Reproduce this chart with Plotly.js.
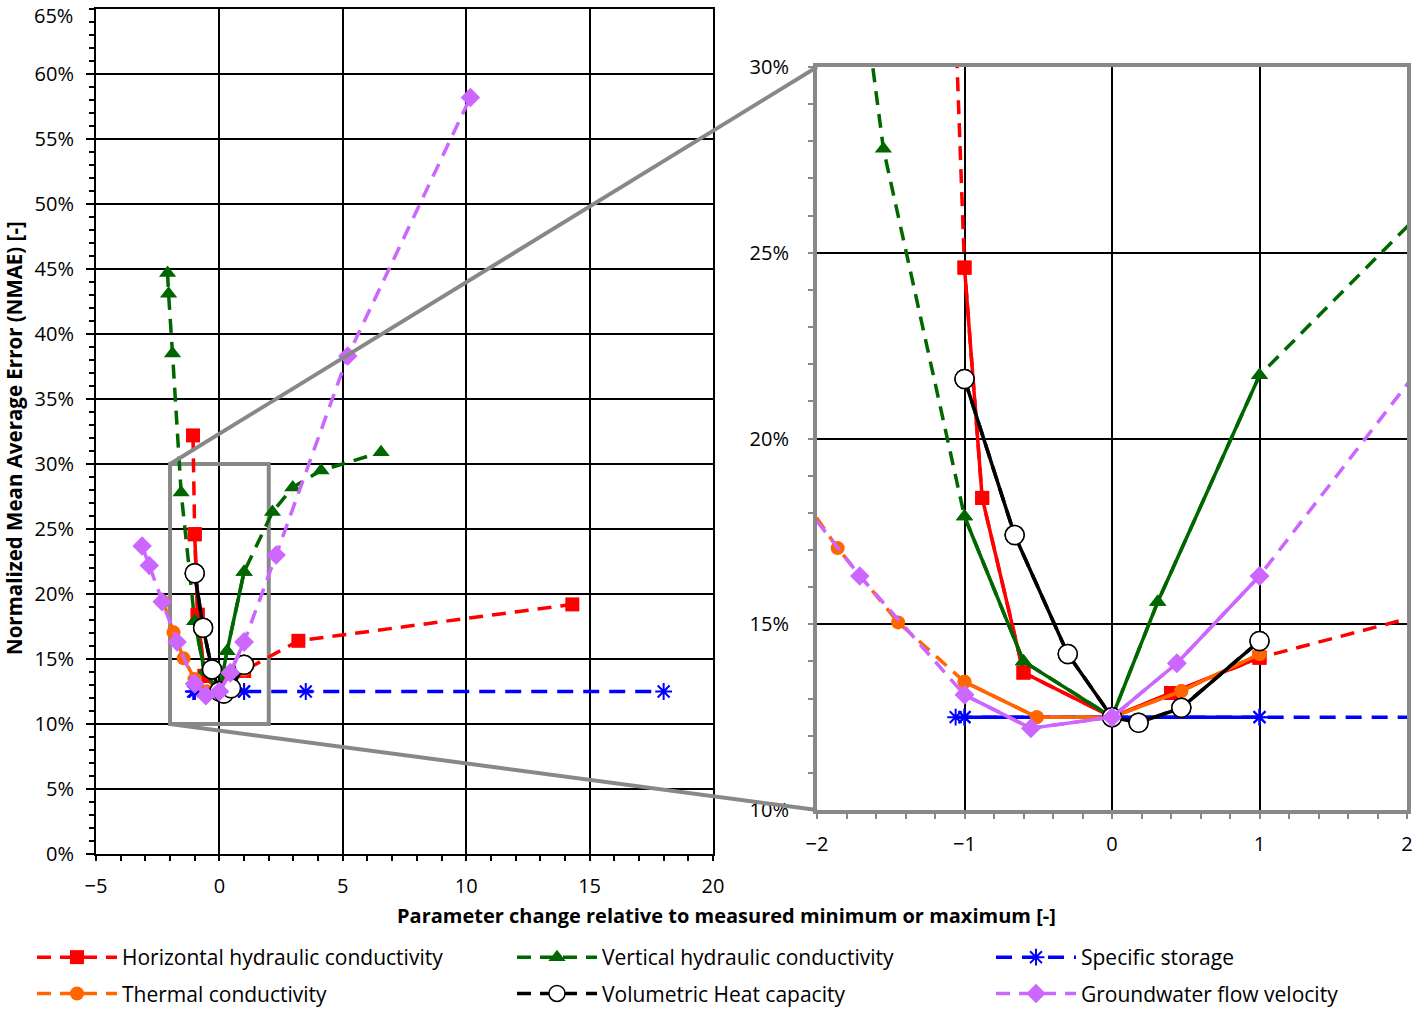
<!DOCTYPE html>
<html><head><meta charset="utf-8">
<script src="https://cdn.plot.ly/plotly-3.0.1.min.js"></script>
<style>html,body{margin:0;padding:0;background:#fff}</style>
</head><body><div id="chart" style="width:1413px;height:1009px"></div>
<script>
// ---- data (NMAE in %) ----
const hhcX = [-1.07, -1.0, -0.88, -0.6, 0, 0.4, 1.0, 3.2, 14.3];
const hhcY = [32.2, 24.6, 18.4, 13.7, 12.5, 13.15, 14.1, 16.4, 19.2];
const vhcX = [-2.1, -2.06, -1.9, -1.55, -1.0, -0.6, 0, 0.31, 1.0, 2.15, 2.97, 4.12, 6.55];
const vhcY = [44.7, 43.1, 38.5, 27.8, 17.9, 14.0, 12.5, 15.6, 21.7, 26.3, 28.2, 29.5, 30.9];
const ssX = [-1.06, -1.0, 0, 1.0, 3.5, 18.0];
const ssY = [12.5, 12.5, 12.5, 12.5, 12.5, 12.5];
const tcX = [-2.27, -1.86, -1.45, -1.0, -0.51, 0, 0.47, 1.0];
const tcY = [19.4, 17.05, 15.05, 13.45, 12.5, 12.5, 13.2, 14.2];
const vhX = [-1.0, -0.66, -0.3, 0, 0.18, 0.47, 1.0];
const vhY = [21.6, 17.4, 14.2, 12.5, 12.35, 12.75, 14.55];
const gfvX = [-3.13, -2.84, -2.32, -1.71, -1.0, -0.55, 0, 0.44, 1.0, 2.3, 5.2, 10.17];
const gfvY = [23.7, 22.2, 19.4, 16.3, 13.1, 12.2, 12.5, 13.95, 16.3, 23.0, 38.3, 58.2];
const seriesNames = ['Horizontal hydraulic conductivity','Vertical hydraulic conductivity','Specific storage',
  'Thermal conductivity','Volumetric Heat capacity','Groundwater flow velocity'];
const mainYTicks = [0, 5, 10, 15, 20, 25, 30, 35, 40, 45, 50, 55, 60];
const mainYTopLabel = '65%';
const xTitle = 'Parameter change relative to measured minimum or maximum [-]';
const yTitle = 'Normalized Mean Average Error (NMAE) [-]';

// ---- layout geometry ----
const W = 1413, H = 1009, M = {l: 96, r: 6, t: 9, b: 155, autoexpand: false};
const PW = W - M.l - M.r, PH = H - M.t - M.b;
const mainDomX = [0, (713 - 96) / PW];
const insetDomX = [(817 - 96) / PW, 1];
const insetDomY = [(854 - 810) / PH, (854 - 67) / PH];
const mainRangeX = [-5, 20], mainRangeY = [0, 65];
const insetRangeX = [-2, 2], insetRangeY = [10, 30];
function toPaper(x, y) {
  return [mainDomX[0] + (x - mainRangeX[0]) / (mainRangeX[1] - mainRangeX[0]) * (mainDomX[1] - mainDomX[0]),
          (y - mainRangeY[0]) / (mainRangeY[1] - mainRangeY[0])];
}
const FONT = '"Open Sans", sans-serif';

const styles = [
  {color: '#FF0000', marker: {symbol: 'square', size: 14}, dash: '14px,9px', legend: 'legend'},
  {color: '#006600', marker: {symbol: 'triangle-up', size: 15}, dash: '14px,9px', legend: 'legend2'},
  {color: '#0000FF', marker: {symbol: 'asterisk-open', size: 14, line: {color: '#0000FF', width: 2}}, dash: '16px,10px', legend: 'legend3'},
  {color: '#FF6600', marker: {symbol: 'circle', size: 14}, dash: '14px,9px', legend: 'legend'},
  {color: '#000000', marker: {symbol: 'circle', size: 19, color: '#FFFFFF', line: {color: '#000000', width: 1.5}}, dash: '14px,9px', legend: 'legend2'},
  {color: '#CC66FF', marker: {symbol: 'diamond', size: 15}, dash: '14px,9px', legend: 'legend3'}
];
const dataX = [hhcX, vhcX, ssX, tcX, vhX, gfvX];
const dataY = [hhcY, vhcY, ssY, tcY, vhY, gfvY];

const traces = [];
seriesNames.forEach((name, k) => {
  const st = styles[k], xs = dataX[k], ys = dataY[k];
  const mk = Object.assign({color: st.color}, st.marker);
  const idx = xs.map((v, i) => i).filter(i => xs[i] >= -1 && xs[i] <= 1);
  [['x', 'y', true], ['x2', 'y2', false]].forEach(([xa, ya, isMain]) => {
    traces.push({type: 'scatter', mode: 'lines+markers', x: xs, y: ys, xaxis: xa, yaxis: ya,
      name: name, legend: st.legend, legendgroup: name, showlegend: isMain,
      line: {color: st.color, width: 3.5, dash: st.dash}, marker: mk, hoverinfo: 'skip'});
    traces.push({type: 'scatter', mode: 'lines+markers', x: idx.map(i => xs[i]), y: idx.map(i => ys[i]),
      xaxis: xa, yaxis: ya, name: name, legend: st.legend, legendgroup: name, showlegend: false,
      line: {color: st.color, width: 3.5, dash: 'solid'}, marker: mk, hoverinfo: 'skip'});
  });
});

const tickFont = {family: FONT, size: 20, color: '#000'};
const pTL = toPaper(-2, 30), pBL = toPaper(-2, 10);
const legBase = {orientation: 'v', font: {family: FONT, size: 21, color: '#000'}, itemwidth: 80,
  yanchor: 'top', xanchor: 'left', bgcolor: 'rgba(0,0,0,0)', tracegroupgap: 6, y: (854 - 937) / PH};

// overlay axes: only provide the inner half of the cross-style tick marks
const innerX = (ov, anc, dom, rng, dt, mdt, col, len) => ({overlaying: ov, anchor: anc, range: rng, dtick: dt, tick0: 0,
  showticklabels: false, showgrid: false, zeroline: false, showline: false,
  ticks: 'inside', ticklen: len, tickwidth: 2, tickcolor: col,
  minor: {dtick: mdt, ticks: 'inside', ticklen: len, tickwidth: 2, tickcolor: col, showgrid: false}});

const layout = {
  width: W, height: H, margin: M, paper_bgcolor: '#fff', plot_bgcolor: 'rgba(0,0,0,0)',
  font: {family: FONT, color: '#000'},
  xaxis: {domain: mainDomX, range: mainRangeX, dtick: 5, tick0: 0, showgrid: true, gridcolor: '#000', gridwidth: 2,
    zeroline: false, showline: true, linecolor: '#000', linewidth: 2, mirror: true, ticklabeloverflow: 'allow',
    ticks: 'outside', ticklen: 5, tickwidth: 2, tickcolor: '#000', tickfont: tickFont, ticklabelstandoff: 8,
    minor: {dtick: 1, ticks: 'outside', ticklen: 5, tickwidth: 2, tickcolor: '#000', showgrid: false}},
  yaxis: {domain: [0, 1], range: mainRangeY, tickmode: 'array', tickvals: mainYTicks, ticktext: mainYTicks.map(v => v + '%'),
    showgrid: true, gridcolor: '#000', gridwidth: 2,
    zeroline: false, showline: true, linecolor: '#000', linewidth: 2, mirror: true, ticklabeloverflow: 'allow',
    ticks: 'outside', ticklen: 8, tickwidth: 2, tickcolor: '#000', tickfont: tickFont, ticklabelstandoff: 8,
    minor: {tickmode: 'linear', tick0: 0, dtick: 1, ticks: 'outside', ticklen: 5, tickwidth: 2, tickcolor: '#000', showgrid: false}},
  xaxis3: innerX('x', 'y', mainDomX, mainRangeX, 5, 1, '#000', 4),
  yaxis3: Object.assign(innerX('y', 'x', [0, 1], mainRangeY, 5, 1, '#000', 4), {side: 'left'}),
  xaxis2: {domain: insetDomX, range: insetRangeX, dtick: 1, anchor: 'y2', showgrid: true, gridcolor: '#000', gridwidth: 2,
    zeroline: false, showline: true, linecolor: '#888', linewidth: 4, mirror: true, ticklabeloverflow: 'allow',
    ticks: 'outside', ticklen: 5, tickwidth: 2, tickcolor: '#888', tickfont: tickFont, ticklabelstandoff: 8,
    minor: {dtick: 0.2, ticks: 'outside', ticklen: 5, tickwidth: 2, tickcolor: '#888', showgrid: false}},
  yaxis2: {domain: insetDomY, range: insetRangeY, dtick: 5, anchor: 'x2', ticksuffix: '%', showgrid: true, gridcolor: '#000', gridwidth: 2,
    zeroline: false, showline: true, linecolor: '#888', linewidth: 4, mirror: true, ticklabeloverflow: 'allow',
    ticks: 'outside', ticklen: 5, tickwidth: 2, tickcolor: '#888', tickfont: tickFont, ticklabelstandoff: 15,
    minor: {dtick: 1, ticks: 'outside', ticklen: 5, tickwidth: 2, tickcolor: '#888', showgrid: false}},
  xaxis4: innerX('x2', 'y2', insetDomX, insetRangeX, 1, 0.2, '#888', 5),
  yaxis4: Object.assign(innerX('y2', 'x2', insetDomY, insetRangeY, 5, 1, '#888', 5), {side: 'left'}),
  shapes: [
    {type: 'rect', xref: 'x', yref: 'y', x0: -2, x1: 2, y0: 10, y1: 30, line: {color: '#888', width: 4}, layer: 'between'},
    {type: 'line', xref: 'paper', yref: 'paper', x0: pTL[0], y0: pTL[1], x1: insetDomX[0], y1: insetDomY[1], line: {color: '#888', width: 4}, layer: 'above'},
    {type: 'line', xref: 'paper', yref: 'paper', x0: pBL[0], y0: pBL[1], x1: insetDomX[0], y1: insetDomY[0], line: {color: '#888', width: 4}, layer: 'above'}
  ],
  annotations: [
    {text: mainYTopLabel, xref: 'paper', yref: 'paper', x: (75 - 96) / PW, y: 1, yshift: 9,
      xanchor: 'right', yanchor: 'top', showarrow: false, font: tickFont},
    {text: '<b>' + yTitle + '</b>', xref: 'paper', yref: 'paper', x: (14 - 96) / PW, y: (854 - 438) / PH,
      textangle: -90, showarrow: false, font: {family: FONT, size: 20.5, color: '#000'}, xanchor: 'center', yanchor: 'middle'},
    {text: '<b>' + xTitle + '</b>', xref: 'paper', yref: 'paper', x: (726 - 96) / PW, y: (854 - 915) / PH,
      showarrow: false, font: {family: FONT, size: 20, color: '#000'}, xanchor: 'center', yanchor: 'middle'}
  ],
  legend: Object.assign({}, legBase, {x: (32 - 96) / PW}),
  legend2: Object.assign({}, legBase, {x: (512 - 96) / PW}),
  legend3: Object.assign({}, legBase, {x: (991 - 96) / PW}),
  showlegend: true
};

Plotly.newPlot('chart', traces, layout, {staticPlot: true, displayModeBar: false});
</script></body></html>
